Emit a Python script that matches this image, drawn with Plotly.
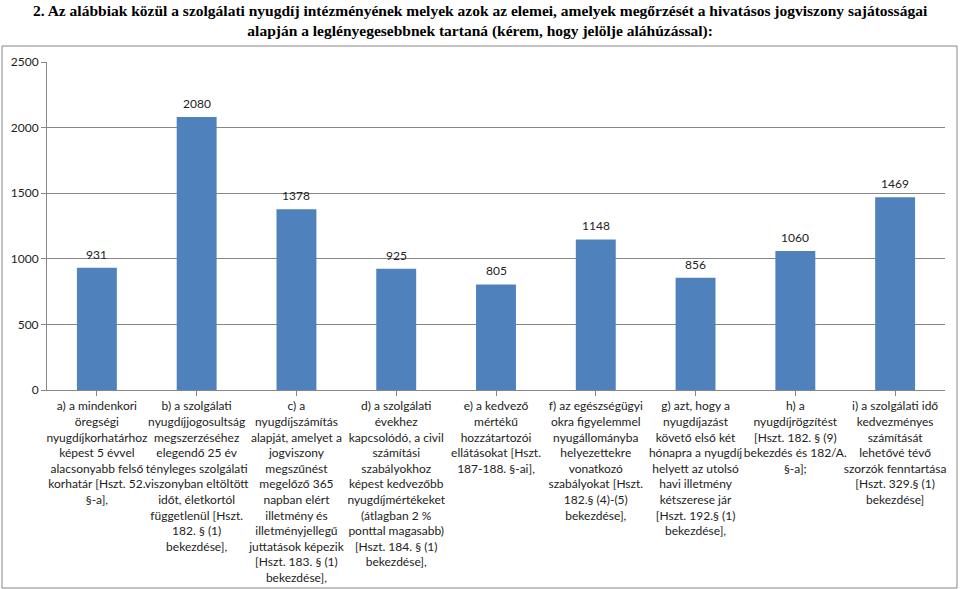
import plotly.graph_objects as go

categories = [
    "a) a mindenkori<br>öregségi<br>nyugdíjkorhatárhoz<br>képest 5 évvel<br>alacsonyabb felső<br>korhatár [Hszt. 52.<br>§-a],",
    "b) a szolgálati<br>nyugdíjjogosultság<br>megszerzéséhez<br>elegendő 25 év<br>tényleges szolgálati<br>viszonyban eltöltött<br>időt, életkortól<br>függetlenül [Hszt.<br>182. § (1)<br>bekezdése],",
    "c) a<br>nyugdíjszámítás<br>alapját, amelyet a<br>jogviszony<br>megszűnést<br>megelőző 365<br>napban elért<br>illetmény és<br>illetményjellegű<br>juttatások képezik<br>[Hszt. 183. § (1)<br>bekezdése],",
    "d) a szolgálati<br>évekhez<br>kapcsolódó, a civil<br>számítási<br>szabályokhoz<br>képest kedvezőbb<br>nyugdíjmértékeket<br>(átlagban 2 %<br>ponttal magasabb)<br>[Hszt. 184. § (1)<br>bekezdése],",
    "e) a kedvező<br>mértékű<br>hozzátartozói<br>ellátásokat [Hszt.<br>187-188. §-ai],",
    "f) az egészségügyi<br>okra figyelemmel<br>nyugállományba<br>helyezettekre<br>vonatkozó<br>szabályokat [Hszt.<br>182.§ (4)-(5)<br>bekezdése],",
    "g) azt, hogy a<br>nyugdíjazást<br>követő első két<br>hónapra a nyugdíj<br>helyett az utolsó<br>havi illetmény<br>kétszerese jár<br>[Hszt. 192.§ (1)<br>bekezdése],",
    "h) a<br>nyugdíjrögzítést<br>[Hszt. 182. § (9)<br>bekezdés és 182/A.<br>§-a];",
    "i) a szolgálati idő<br>kedvezményes<br>számítását<br>lehetővé tévő<br>szorzók fenntartása<br>[Hszt. 329.§ (1)<br>bekezdése]",
]
values = [931, 2080, 1378, 925, 805, 1148, 856, 1060, 1469]
y_ticks = [0, 500, 1000, 1500, 2000, 2500]

title_line1 = ("2. Az alábbiak közül a szolgálati nyugdíj intézményének melyek azok az elemei, "
               "amelyek megőrzését a hivatásos jogviszony sajátosságai")
title_line2 = "alapján a leglényegesebbnek tartaná (kérem, hogy jelölje aláhúzással):"

x_idx = list(range(len(categories)))

PLOT_W, PLOT_H = 898, 328

fig = go.Figure(go.Bar(
    x=x_idx, y=values,
    marker=dict(color="#4F81BD", line=dict(width=0)),
    width=0.4,
    hoverinfo="x+y",
))

for i, v in zip(x_idx, values):
    fig.add_annotation(x=i, y=v, xref="x", yref="y", text=str(v),
                       showarrow=False, yanchor="bottom", yshift=4,
                       font=dict(family="Lato", size=12, color="#222222"))

fig.add_annotation(xref="paper", yref="paper", x=(480 - 47) / PLOT_W,
                   y=1 + 62 / PLOT_H, yanchor="top", xanchor="center",
                   text="<b>" + title_line1 + "<br>" + title_line2 + "</b>",
                   showarrow=False, align="center",
                   font=dict(family="Liberation Serif, Times New Roman, serif",
                             size=15.5, color="black"))

fig.update_layout(
    width=960, height=589,
    margin=dict(l=47, r=15, t=62, b=199, autoexpand=False),
    paper_bgcolor="white", plot_bgcolor="white",
    showlegend=False,
    font=dict(family="Lato", size=12, color="#222222"),
)

fig.update_xaxes(
    tickmode="array", tickvals=x_idx, ticktext=categories,
    range=[-0.5, len(categories) - 0.5],
    showline=True, linecolor="#868686", linewidth=1,
    ticks="outside", ticklen=5, tickcolor="#868686",
    showgrid=False, tickangle=0, automargin=False,
    tickfont=dict(family="Lato", size=12, color="#222222"),
    tickson="boundaries",
)

fig.update_yaxes(
    range=[0, 2500], tickvals=y_ticks,
    showgrid=True, gridcolor="#868686", gridwidth=1,
    showline=True, linecolor="#868686", linewidth=1,
    ticks="outside", ticklen=5, tickcolor="#868686",
    zeroline=False, automargin=False,
    tickfont=dict(family="Lato", size=12, color="#222222"),
)

fig.add_shape(type="rect", xref="paper", yref="paper",
              x0=-45 / PLOT_W, x1=1 + 12 / PLOT_W, y0=-198 / PLOT_H, y1=1 + 16 / PLOT_H,
              line=dict(color="#868686", width=1), fillcolor="rgba(0,0,0,0)",
              layer="below")

fig.write_html("out.html",
               config={"displayModeBar": False},
               post_script="document.body.style.margin='0';document.body.style.padding='0';")
